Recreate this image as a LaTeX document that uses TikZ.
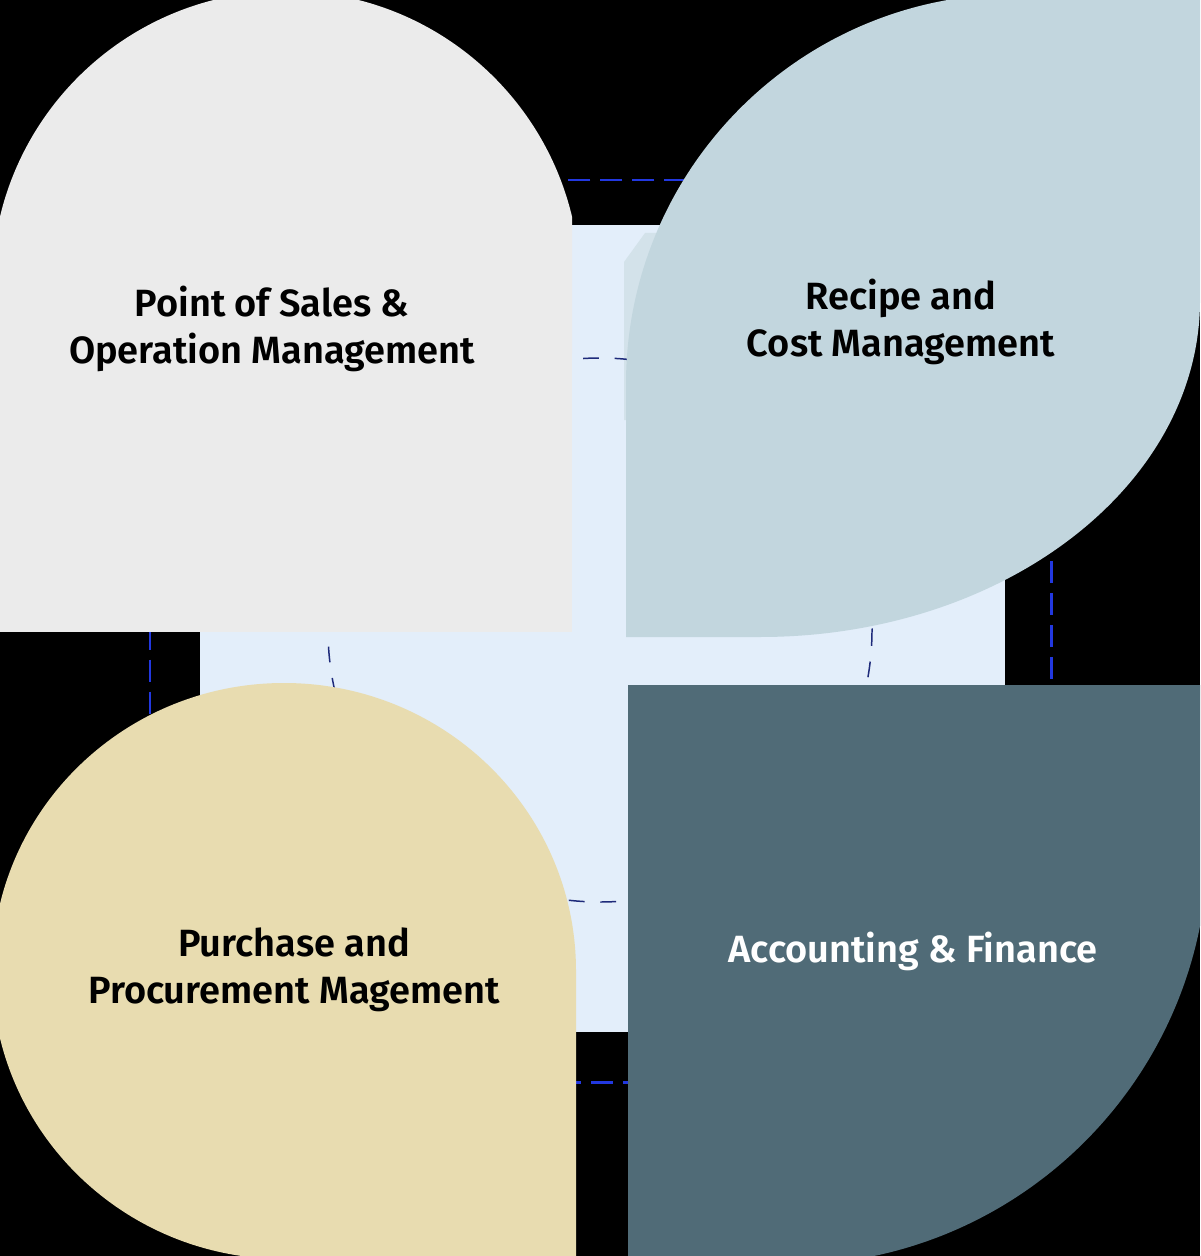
\documentclass[tikz,border=0pt]{standalone}
\usepackage{fontspec}
\setmainfont{Fira Sans}
\newfontfamily\areafont{Fira Sans SemiBold}
\usetikzlibrary{positioning}
\definecolor{posgray}{HTML}{EBEBEB}
\definecolor{recipeblue}{HTML}{C2D6DE}
\definecolor{stripblue}{HTML}{D3E2EA}
\definecolor{purchasesand}{HTML}{E8DCB0}
\definecolor{financeslate}{HTML}{506B77}
\definecolor{corebg}{HTML}{E3EEFA}
\definecolor{ringnavy}{HTML}{1E2A7A}
\definecolor{frameblue}{HTML}{2238E0}

\begin{document}
\begin{tikzpicture}[x=0.02cm, y=-0.02cm,
    outerframe/.style={draw=frameblue, line width=1.7pt, dash pattern=on 12.5pt off 5.7pt},
    innerring/.style={draw=ringnavy, line width=0.85pt, dash pattern=on 9pt off 9pt},
    areatext/.style={font=\areafont\fontsize{21.6}{27}\selectfont, align=center, text=black}]
  \clip (0,0) rectangle (1200,1256);
  \fill[black] (0,0) rectangle (1200,1256);
  % dashed frame and the core square
  \draw[outerframe] (150,180) rectangle (1051,1082);
  \fill[corebg] (200,225) rectangle (1005,1032);
  \fill[stripblue] (624,420) -- (624,262) -- (645,233) -- (700,233) -- (700,420) -- cycle;
  \draw[innerring] (600,630) circle[radius=272];
  % the four areas
  \begin{scope}
    \clip (0,0) rectangle (572,632);
    \fill[posgray] (286,285) circle[radius=294];
    \fill[posgray] (0,285) rectangle (572,632);
  \end{scope}
  \fill[recipeblue] (626,637) -- (626,384) arc[start angle=180, end angle=270, radius=390]
    -- (1200,-6) -- (1200,300) arc[start angle=0, end angle=90, x radius=440, y radius=337] -- cycle;
  \fill[purchasesand] (576,971) arc[start angle=0, end angle=-270, x radius=292, y radius=288]
    -- (576,1259) -- cycle;
  \fill[financeslate] (628,685) -- (1208,685) -- (1208,844) arc[start angle=0, end angle=90, radius=421]
    -- (628,1265) -- cycle;
  \begin{scope}[every node/.style={areatext}]
    \node (pos) at (272,329) {Point of Sales \&\\Operation Management};
    \node (recipe) at (901,322) {Recipe and\\Cost Management};
    \node (purchase) at (294,970) {Purchase and\\Procurement Magement};
    \node[text=white] (finance) at (913,951) {Accounting \& Finance};
  \end{scope}
\end{tikzpicture}
\end{document}
